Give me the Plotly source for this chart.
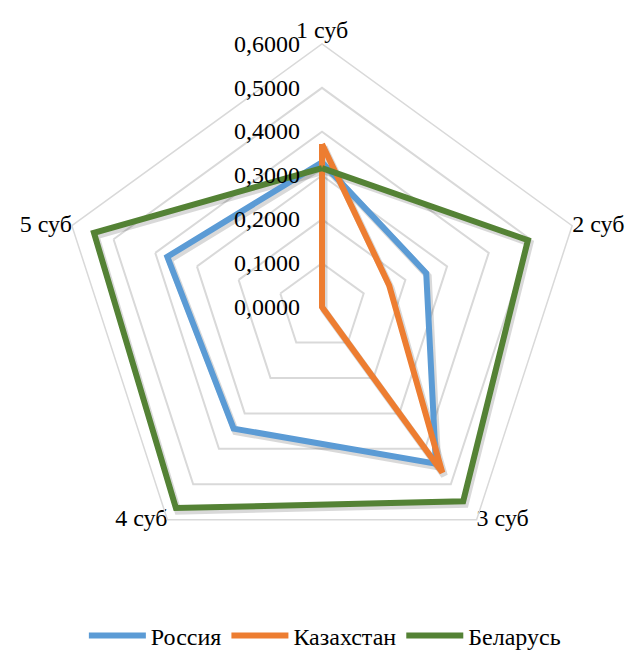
import plotly.graph_objects as go

categories = ["1 суб", "2 суб", "3 суб", "4 суб", "5 суб"]
russia = [0.330, 0.250, 0.442, 0.343, 0.371]
kazakhstan = [0.372, 0.161, 0.467, 0.0, 0.0]
belarus = [0.317, 0.494, 0.548, 0.567, 0.547]
radial_ticks = [0.0, 0.1, 0.2, 0.3, 0.4, 0.5, 0.6]

series = [
    ("Россия", russia, "#5B9BD5"),
    ("Казахстан", kazakhstan, "#ED7D31"),
    ("Беларусь", belarus, "#548235"),
]

W, H = 637, 652
FONT = "Liberation Serif"
FS = 24
R_MAX = radial_ticks[-1]

# chart box: centre and outer radius in px
cx, cy, R = 322, 307, 263


def domain(dx=0, dy=0):
    x0 = (cx - R + dx) / W
    x1 = (cx + R + dx) / W
    y0 = (H - (cy + R + dy)) / H
    y1 = (H - (cy - R + dy)) / H
    return dict(x=[x0, x1], y=[y0, y1])


fig = go.Figure()

cats_closed = categories + categories[:1]
tickfont = dict(family=FONT, size=FS, color="#000000")

# category names placed at the outer corners of the pentagon
fig.add_trace(go.Scatterpolar(
    r=[R_MAX] * len(categories), theta=categories, mode="text",
    text=categories,
    textposition=["top center", "middle right", "middle right",
                  "middle left", "middle left"],
    textfont=tickfont, cliponaxis=False,
    showlegend=False, hoverinfo="skip", subplot="polar",
))

# invisible trace so that the label-only subplot is rendered
fig.add_trace(go.Scatterpolar(
    r=[0] * len(categories), theta=categories, mode="lines",
    line=dict(color="rgba(0,0,0,0)", width=0),
    showlegend=False, hoverinfo="skip", subplot="polar4",
))

# soft drop shadow under each series
for name, vals, color in series:
    fig.add_trace(go.Scatterpolar(
        r=vals + vals[:1], theta=cats_closed, mode="lines",
        line=dict(color="rgba(0,0,0,0.15)", width=7),
        showlegend=False, hoverinfo="skip", subplot="polar2",
    ))

for name, vals, color in series:
    fig.add_trace(go.Scatterpolar(
        r=vals + vals[:1], theta=cats_closed, mode="lines", name=name,
        line=dict(color=color, width=6, shape="linear"),
        subplot="polar3",
    ))

hidden_radial = dict(range=[0, R_MAX], visible=False)
hidden_angular = dict(direction="clockwise", rotation=90, visible=False,
                      categoryorder="array", categoryarray=categories)

fig.update_layout(
    width=W, height=H,
    margin=dict(l=0, r=0, t=0, b=0, autoexpand=False),
    paper_bgcolor="white",
    separators=", ",
    font=dict(family=FONT, size=FS, color="#000000"),
    polar=dict(
        domain=domain(),
        bgcolor="rgba(0,0,0,0)",
        gridshape="linear",
        radialaxis=dict(
            range=[0, R_MAX], tickvals=radial_ticks, showticklabels=False,
            angle=90, showline=False, ticks="",
            gridcolor="#d9d9d9", gridwidth=1.5,
        ),
        angularaxis=dict(
            direction="clockwise", rotation=90,
            categoryorder="array", categoryarray=categories,
            showgrid=False, showline=True, linecolor="#d9d9d9", linewidth=1.5,
            ticks="", showticklabels=False,
        ),
    ),
    polar4=dict(
        domain=domain(-18, 0),
        bgcolor="rgba(0,0,0,0)",
        gridshape="linear",
        radialaxis=dict(
            range=[0, R_MAX], tickvals=radial_ticks, tickformat=".4f",
            angle=90, tickangle=90, side="counterclockwise",
            showline=False, showgrid=False, ticks="", tickfont=tickfont,
        ),
        angularaxis=hidden_angular,
    ),
    polar2=dict(domain=domain(2, 3), bgcolor="rgba(0,0,0,0)", gridshape="linear",
                radialaxis=hidden_radial, angularaxis=hidden_angular),
    polar3=dict(domain=domain(), bgcolor="rgba(0,0,0,0)", gridshape="linear",
                radialaxis=hidden_radial, angularaxis=hidden_angular),
    legend=dict(
        orientation="h", x=0.51, xanchor="center",
        yref="container", y=16 / H, yanchor="middle",
        font=tickfont, itemwidth=57, tracegroupgap=0,
    ),
)

fig.write_html("out.html")
